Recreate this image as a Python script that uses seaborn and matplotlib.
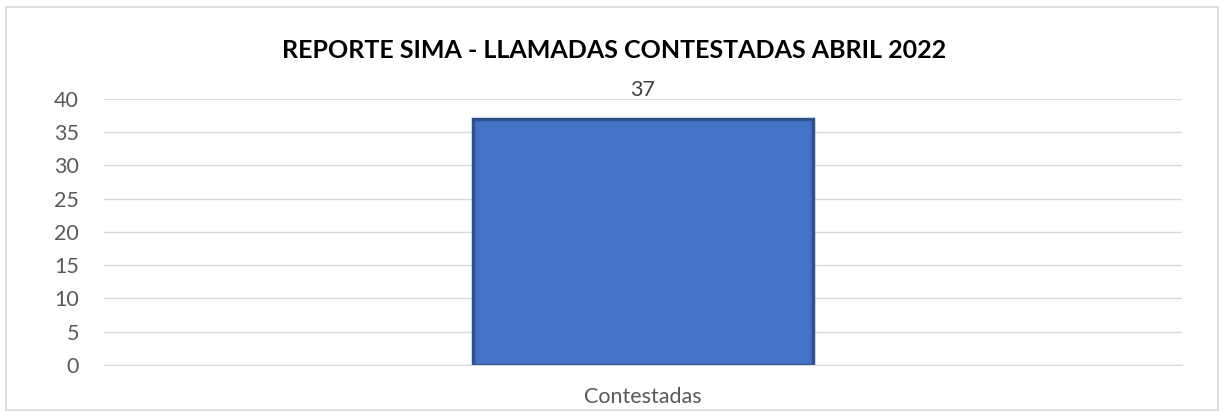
import pandas as pd
import matplotlib
matplotlib.use("Agg")
import matplotlib.pyplot as plt
import seaborn as sns
from matplotlib.patches import Rectangle

# Datos
categorias = ["Contestadas"]
valores = [37]
ticks_y = [0, 5, 10, 15, 20, 25, 30, 35, 40]

df = pd.DataFrame({"Categoria": categorias, "Llamadas": valores})

sns.set_style("white")
plt.rcParams["font.family"] = ["Lato", "DejaVu Sans"]

fig = plt.figure(figsize=(12.24, 4.17), dpi=100)
ax = fig.add_axes([0.085, 0.1247, 0.8807, 0.6379])

sns.barplot(data=df, x="Categoria", y="Llamadas", color="#4472C4",
            width=0.315, edgecolor="#2F528F", linewidth=2.5, saturation=1, ax=ax)

ax.set_ylim(0, 40)
ax.set_yticks(ticks_y)
ax.set_xlim(-0.5, 0.5)
ax.yaxis.grid(True, color="#D9D9D9", linewidth=1)
ax.set_axisbelow(True)
for s in ["top", "right", "left"]:
    ax.spines[s].set_visible(False)
ax.spines["bottom"].set_color("#D9D9D9")
ax.tick_params(axis="both", colors="#595959", labelsize=15.5, length=0)
ax.tick_params(axis="y", pad=18)
ax.tick_params(axis="x", pad=16)
ax.set_xlabel("")
ax.set_ylabel("")

for c in ax.containers:
    ax.bar_label(c, fmt="%d", color="#404040", fontsize=15.5, padding=14)

fig.text(0.502, 0.88, "REPORTE SIMA - LLAMADAS CONTESTADAS ABRIL 2022",
         ha="center", va="center", fontsize=18, fontweight="bold", color="#000000")

fig.patches.append(Rectangle((0.005, 0.017), 0.99, 0.966, transform=fig.transFigure,
                             fill=False, edgecolor="#D9D9D9", linewidth=1.2))

fig.savefig("out.png", dpi=100)
